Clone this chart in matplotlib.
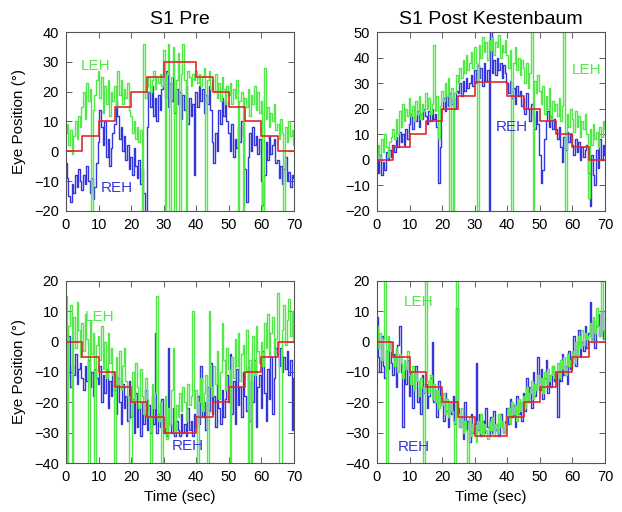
import numpy as np
import matplotlib.pyplot as plt

plt.rcParams['font.family'] = ['Liberation Sans', 'DejaVu Sans']

# sampling interval of the eye traces (sec)
dt = 0.5

# target steps (red), times of step onsets
step_t = [0, 5, 10, 15, 20, 25, 30, 35, 40, 45, 50, 55, 60, 65, 70]
target_pre = [0, 5, 10, 15, 20, 25, 30, 30, 25, 20, 15, 10, 5, 0, 0]
target_post = [0, 5, 10, 15, 20, 25, 30.5, 30.5, 25, 20, 15, 10, 5, 0, 0]
target_pre_dn = [0, -5, -10, -15, -20, -25, -30, -30, -25, -20, -15, -10, -5, 0, 0]
target_post_dn = [0, -5, -10, -15, -20, -25, -31, -31, -25, -20, -15, -10, -5, 0, 0]

# S1 Pre, upward sweep
reh_pre_up = [
    -4, -9, -15, -17, -11, -14, -8, -12, -6, -10,
    -13, -8, -11, -5, -10, -14, -9, -16, -12, -4,
    3, 14, 8, 2, 10, -2, 4, -5, 1, 6,
    9, 17, 12, 4, 8, 0, 5, -3, 2, -6,
    -2, -8, 1, -5, -9, -3, -11, -6, -14, -22,
    8, 20, 15, 22, 12, 18, 10, 19, 14, 21,
    26, 18, 27, 15, 23, 17, 25, 13, 21, 16,
    20, 11, 19, 14, 22, 9, 18, 12, 16, -8,
    20, 15, 22, 17, 21, 13, 19, 16, 22, 14,
    3, -4, 6, 0, 14, 9, 18, 12, 17, 10,
    6, 0, 9, -2, 4, 1, 8, 3, 10, 5,
    -6, -17, -2, 6, 0, 8, 2, 5, -1, 4,
    -10, -18, -8, 3, -3, 5, -1, 2, 4, -4,
    -3, -9, -5, -11, -6, -2, -10, -7, -12, -8, -9]
leh_pre_up = [
    6, 9, 2, 7, -1, 5, 10, 4, 12, 8,
    15, 20, 11, 23, 17, 21, -22, 14, 19, 24,
    27, 18, 25, 13, 22, 16, 24, 12, 20, 17,
    22, 15, 27, 19, 24, 16, 21, 18, 23, 14,
    12, 6, 10, 4, 8, 3, 7, -22, 36, 18,
    22, 25, 20, 24, 27, 21, 25, 23, 26, 22,
    34, -22, 26, 36, -22, 25, 35, -22, 24, 33,
    -22, 26, 36, 24, -22, 27, 25, 22, 26, 24,
    27, 23, 26, 22, 25, 28, -22, 24, 27, 21,
    24, 20, 26, 18, 23, 17, 25, 21, 16, 22,
    19, 23, 16, 21, 18, 24, -22, 17, 20, -22,
    18, 15, 21, 12, 19, 16, 22, 14, 20, 13,
    17, -22, 28, 11, 15, 8, 13, 10, 16, 7,
    9, 4, 11, 6, -22, 8, 3, 10, 5, 7, 2]

# S1 Post Kestenbaum, upward sweep
reh_post_up = [
    0, -5, 2, -6, -1, -4, 3, 0, 4, 1,
    6, 3, 9, 5, 11, 7, 10, 6, 12, 8,
    14, 18, 12, 17, 15, 19, 13, 18, 16, 20,
    17, 14, 19, 15, 20, 16, 18, 13, -9, 5,
    20, 24, 19, 25, 21, 26, 22, 24, 20, 27,
    26, 30, 25, 31, 27, 32, 28, 30, 33, 29,
    35, 30, 37, 32, 36, 29, 38, 31, 35, -22,
    52, 34, 39, 33, 40, 35, 38, 32, 37, 34,
    30, 26, 31, 24, 28, 22, 29, 25, 27, 21,
    24, 18, 26, 20, 15, 22, 17, 12, 19, 14,
    2, -9, -4, 8, 15, 19, 13, 17, 12, 16,
    12, 8, 13, 5, -1, 9, 4, 11, 7, 10,
    6, 2, 8, 3, 7, 0, 5, 1, 4, 6,
    -5, -18, 2, -6, -10, 4, -3, 8, 0, 6, 2]
leh_post_up = [
    2, 6, 0, 8, 3, 10, 5, 1, 7, 9,
    12, 8, 16, 10, 19, 13, 22, 15, 20, 17,
    24, 17, 21, 15, 23, 18, 25, 16, 22, 19,
    26, 20, 24, 18, 22, 45, 19, 25, 8, 21,
    27, 23, 30, 25, 32, -22, 28, -22, 26, 33,
    30, 36, 32, 39, 34, 41, 35, 38, 42, 36,
    44, 38, -22, 45, 40, 48, 42, 46, 39, 47,
    43, 48, 41, 46, 44, 49, 40, 45, 42, 47,
    41, 36, 43, -22, 38, 44, 35, 40, 33, 39,
    36, 30, 38, 28, 34, 52, -22, 31, 26, 33,
    27, 22, 29, 18, 25, 20, 28, 16, 23, 19,
    22, 17, 24, 15, 21, 52, -22, 18, 13, 20,
    16, 11, 19, 13, 17, 9, 15, 12, 18, 10,
    -15, 12, 6, 14, 8, 11, 5, 13, 9, 15, 12]

# S1 Pre, downward sweep
reh_pre_dn = [
    -5, -12, 2, -15, -8, -11, -4, -14, -9, -7,
    -12, -16, -8, -13, -6, -15, -10, -18, -9, -12,
    -14, -8, -20, -11, -17, -9, -22, -13, -18, -10,
    -16, -24, -12, -20, -27, -14, -22, -18, -26, -13,
    -25, -19, -30, -17, -28, -22, -31, -20, -27, -16,
    -29, -21, -30, -18, -27, 3, -30, -24, -28, -19,
    -30, -25, -31, -2, -27, -30, -22, -31, -26, -29,
    -31, -24, -30, -27, -31, -22, -29, -26, -31, -24,
    -28, -18, -27, -8, -25, -20, -29, -15, -23, -7,
    -24, -18, -28, -14, -22, -27, -16, -25, -19, -11,
    -20, -4, -24, -13, -27, -9, -21, -15, -25, -10,
    -18, -23, -8, -26, -13, -20, -6, -28, -15, -11,
    -22, -3, -17, -26, -9, -19, -5, -24, -12, -2,
    -4, -8, -2, -10, -5, -9, -3, -11, -6, -29, -12]
leh_pre_dn = [
    15, -42, 5, 12, -42, 8, -2, 13, 4, -5,
    6, -3, 9, 1, -42, 7, -4, 3, -42, -1,
    2, -6, 5, -9, 0, -12, 3, -7, -2, -11,
    -42, -5, -14, -3, -16, -8, -2, -13, -18, -42,
    -42, -10, -20, -7, -15, -22, -9, -18, -24, -12,
    -19, -25, -42, -14, -22, -17, 15, -26, -20, -42,
    -28, -18, -32, -22, -27, -16, -2, -30, -21, -25,
    -17, -23, -15, -20, -26, -14, -21, -18, 10, -22,
    -16, -42, -20, -12, -23, -17, -11, -42, 10, -15,
    -18, -8, -14, -3, -19, -10, 6, -6, -16, -2,
    -9, -42, -5, -12, 1, -8, 3, -13, -4, -1,
    -10, 4, -42, -6, -42, 2, -11, 5, -3, -7,
    0, -8, 6, -2, 9, -5, 3, 8, -4, 1,
    16, -42, -42, 4, 12, -1, 7, 14, 2, 10, 0]

# S1 Post Kestenbaum, downward sweep
reh_post_dn = [
    8, -5, -10, 2, -8, -12, -3, -9, 0, -7,
    -11, -4, -15, -1, 5, -10, -28, -8, -14, -6,
    -18, -10, -22, -13, -8, -20, -15, -24, -11, -17,
    -14, -22, -18, -12, 0, -20, -16, -25, -13, -21,
    -19, -26, -17, -23, -28, -20, -24, -18, -27, 11,
    -22, -28, -25, -32, -20, -29, -26, -33, -24, -30,
    -27, -7, -29, -24, -31, -26, -30, -22, -28, -31,
    -25, -30, -23, -29, -27, -31, -24, -28, -30, -26,
    -22, -27, -19, -25, -21, -28, -18, -24, -20, -26,
    -17, -23, -12, -20, -15, -22, -10, -18, -14, -5,
    -16, -9, -19, -12, -6, -17, -11, -15, -8, -13,
    -10, -25, -7, -13, -4, -11, -8, -14, -3, -9,
    -6, 2, -8, -1, 4, -5, 0, -3, 5, -2,
    3, 13, 1, 7, -2, 5, 9, 2, 10, 1, 4]
leh_post_dn = [
    5, -2, 3, -6, 1, 22, -42, 2, -3, 0,
    -5, -8, -2, -10, -4, -7, -12, -6, -9, -3,
    -11, -14, -8, -16, -10, -13, -18, -12, -15, -42,
    22, -13, -17, -11, -19, -14, -20, -16, -22, -18,
    -21, -17, -24, -19, -25, -20, -23, -26, -42, 22,
    -24, -28, -22, -30, -26, -29, -42, -25, -31, -27,
    -28, -33, -26, -30, -24, -31, -27, -29, -32, -26,
    -29, -25, -31, -27, -30, -24, -28, -26, -30, -27,
    -25, -22, -27, -20, -24, -21, -26, -19, -23, -20,
    -18, -22, -15, -20, -17, -13, -19, -14, -16, -11,
    -15, -12, -17, -10, -14, -9, -13, -11, -8, -12,
    -10, -7, -12, -6, -9, -5, -11, -4, -8, -6,
    -3, -7, 0, -5, 2, -2, 4, -1, 3, 1,
    2, 6, 0, 8, 3, 11, 5, 2, 20, 4, 1]

titles = ['S1 Pre', 'S1 Post Kestenbaum']
ylims = [(-20, 40), (-20, 50), (-40, 20), (-40, 20)]

c_leh = '#52e84a'
c_reh = '#3535dc'
c_tgt = '#e02a2a'

fig = plt.figure(figsize=(6.22, 5.12), dpi=100)
pos = [[0.1061, 0.5879, 0.3666, 0.3496],
       [0.6061, 0.5879, 0.3666, 0.3496],
       [0.1061, 0.0957, 0.3666, 0.3555],
       [0.6061, 0.0957, 0.3666, 0.3555]]

panels = [
    (reh_pre_up, leh_pre_up, target_pre),
    (reh_post_up, leh_post_up, target_post),
    (reh_pre_dn, leh_pre_dn, target_pre_dn),
    (reh_post_dn, leh_post_dn, target_post_dn),
]

# label placement (t, y) for LEH and REH text
leh_xy = [(9.2, 28.6), (64.2, 35.1), (10.4, 8.1), (12.9, 13.1)]
reh_xy = [(15.5, -12.3), (41.4, 12.8), (37.5, -34.4), (11.4, -34.7)]

for k, (reh, leh, tgt) in enumerate(panels):
    ax = fig.add_axes(pos[k])
    t = np.arange(len(reh)) * dt
    # eye traces drawn as sample-and-hold, like the recorder output
    ax.plot(t, reh, color=c_reh, lw=1.0, drawstyle='steps-mid')
    ax.plot(t, leh, color=c_leh, lw=1.0, drawstyle='steps-mid')
    ax.plot(step_t, tgt, color=c_tgt, lw=1.2, drawstyle='steps-post')

    ax.set_xlim(0, 70)
    ax.set_ylim(*ylims[k])
    ax.set_xticks(range(0, 71, 10))
    ax.set_yticks(range(ylims[k][0], ylims[k][1] + 1, 10))
    ax.tick_params(direction='in', top=True, right=True, length=4,
                   width=0.6, labelsize=10.5, color='#444444', pad=5)
    for s in ax.spines.values():
        s.set_color('#555555')
        s.set_linewidth(0.8)

    ax.text(*leh_xy[k], 'LEH', color=c_leh, fontsize=11, ha='center', va='center')
    ax.text(*reh_xy[k], 'REH', color=c_reh, fontsize=11, ha='center', va='center')

    if k < 2:
        ax.set_title(titles[k], fontsize=14, pad=6)
    else:
        ax.set_xlabel('Time (sec)', fontsize=11, labelpad=4)
    if k % 2 == 0:
        ax.set_ylabel('Eye Position (°)', fontsize=11, labelpad=6)

fig.savefig('out.png', dpi=100)
